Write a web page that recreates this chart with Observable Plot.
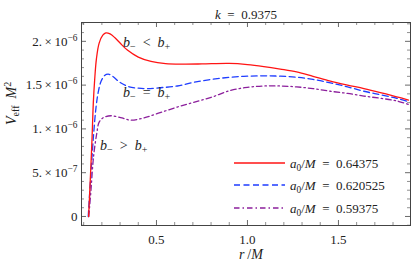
<!DOCTYPE html>
<html><head><meta charset="utf-8">
<script src="https://cdn.jsdelivr.net/npm/d3@7"></script>
<script src="https://cdn.jsdelivr.net/npm/@observablehq/plot@0.6"></script>
<style>
body{margin:0;background:#fff;}
#chart{position:relative;width:415px;height:273px;}
svg text{font-family:"Liberation Serif","Times New Roman",serif;}
</style></head><body><div id="chart"></div>
<script>
// values in units of 1e-6
const rRed = [0.127,0.138,0.146,0.153,0.160,0.170,0.185,0.205,0.222,0.245,0.272,0.30,0.34,0.40,0.47,0.55,0.65,0.75,0.90,1.00,1.09,1.18,1.27,1.36,1.456,1.55,1.64,1.73,1.82,1.885];
const vRed = [0.0,0.5,0.9,1.3,1.55,1.80,1.98,2.07,2.097,2.085,2.04,1.98,1.90,1.82,1.77,1.745,1.74,1.742,1.748,1.735,1.712,1.683,1.65,1.60,1.545,1.50,1.46,1.415,1.367,1.33];
const rBlue = [0.125,0.140,0.155,0.168,0.180,0.195,0.215,0.235,0.26,0.30,0.35,0.40,0.45,0.52,0.615,0.70,0.80,0.907,1.00,1.09,1.18,1.27,1.36,1.456,1.55,1.64,1.73,1.82,1.885];
const vBlue = [0.0,0.5,0.95,1.25,1.42,1.54,1.61,1.625,1.60,1.53,1.48,1.465,1.46,1.47,1.49,1.53,1.565,1.59,1.602,1.606,1.602,1.59,1.565,1.526,1.48,1.43,1.39,1.35,1.31];
const rPurple = [0.128,0.140,0.154,0.172,0.185,0.209,0.25,0.31,0.36,0.43,0.52,0.615,0.70,0.80,0.907,1.00,1.09,1.18,1.27,1.36,1.456,1.55,1.64,1.73,1.82,1.885];
const vPurple = [0.0,0.3,0.68,0.95,1.077,1.13,1.15,1.125,1.10,1.125,1.185,1.25,1.30,1.36,1.44,1.475,1.49,1.49,1.48,1.46,1.43,1.405,1.375,1.35,1.32,1.28];

const seriesNames = ["a₀/M = 0.64375","a₀/M = 0.620525","a₀/M = 0.59375"];
const seriesColors = ["#ff1414","#1f3dff","#8c1f9c"];
const seriesDash = [null,"6,3.5","5.5,3,1.5,3"];

const xMajor = [0.5,1.0,1.5];
const xMinor = d3.range(1,19).map(i=>i/10).filter(v=>!xMajor.some(m=>Math.abs(m-v)<1e-9));
const yMajor = [0,0.5e-6,1e-6,1.5e-6,2e-6];
const yTickLabels = ["0","5.×10^−7","1.×10^−6","1.5×10^−6","2.×10^−6"];
const yMinor = d3.range(-1,23).map(i=>i*1e-7).filter(v=>!yMajor.some(m=>Math.abs(m-v)<1e-12));

const annotations = [
  {r:0.316, v:1.99e-6, text:"b₋ < b₊"},
  {r:0.316, v:1.42e-6, text:"b₋ = b₊"},
  {r:0.19, v:0.81e-6, text:"b₋ > b₊"}
];
const title = "k = 0.9375";
const xLabel = "r/M";
const yLabel = "Veff M2";

const mk = (r,v,name)=>r.map((x,i)=>({r:x, v:v[i]*1e-6, name}));
const dRed = mk(rRed,vRed,seriesNames[0]);
const dBlue = mk(rBlue,vBlue,seriesNames[1]);
const dPurple = mk(rPurple,vPurple,seriesNames[2]);

const W=415,H=273,mL=81,mR=5,mT=22,mB=48;
const iW=W-mL-mR, iH=H-mT-mB;
const tc="#444";
const FS=13;

const plot = Plot.plot({
  width:W, height:H, marginLeft:mL, marginRight:mR, marginTop:mT, marginBottom:mB,
  style:{fontFamily:"Liberation Serif, serif", fontSize:FS+"px", background:"#fff", color:"#222"},
  x:{domain:[0.088,1.896]},
  y:{domain:[-0.103e-6,2.215e-6]},
  marks:[
    Plot.ruleX(xMajor,{insetTop:iH-5,stroke:tc,strokeWidth:0.8}),
    Plot.ruleX(xMajor,{insetBottom:iH-5,stroke:tc,strokeWidth:0.8}),
    Plot.ruleX(xMinor,{insetTop:iH-3,stroke:tc,strokeWidth:0.6}),
    Plot.ruleX(xMinor,{insetBottom:iH-3,stroke:tc,strokeWidth:0.6}),
    Plot.ruleY(yMajor,{insetRight:iW-5,stroke:tc,strokeWidth:0.8}),
    Plot.ruleY(yMajor,{insetLeft:iW-5,stroke:tc,strokeWidth:0.8}),
    Plot.ruleY(yMinor,{insetRight:iW-3,stroke:tc,strokeWidth:0.6}),
    Plot.ruleY(yMinor,{insetLeft:iW-3,stroke:tc,strokeWidth:0.6}),
    Plot.frame({stroke:tc,strokeWidth:1}),
    Plot.line(dPurple,{x:"r",y:"v",stroke:seriesColors[2],strokeWidth:1.3,strokeDasharray:seriesDash[2],curve:"catmull-rom"}),
    Plot.line(dBlue,{x:"r",y:"v",stroke:seriesColors[1],strokeWidth:1.3,strokeDasharray:seriesDash[1],curve:"catmull-rom"}),
    Plot.line(dRed,{x:"r",y:"v",stroke:seriesColors[0],strokeWidth:1.3,curve:"catmull-rom"}),
    Plot.axisX({ticks:xMajor,tickSize:0,tickPadding:9,tickFormat:d=>d.toFixed(1),label:null,fontSize:FS,fill:"#222"}),
    Plot.axisY({ticks:yMajor,tickSize:0,tickPadding:4,tickFormat:(d)=>yTickLabels[yMajor.indexOf(d)],label:null,fontSize:FS,fill:"#222"}),
    Plot.text(annotations,{x:"r",y:"v",text:"text",textAnchor:"start",fontSize:14,fill:"#222",className:"rich"}),
    Plot.text([title],{frameAnchor:"top",dy:-13,fontSize:FS,fill:"#222",className:"rich"}),
    Plot.text([xLabel],{frameAnchor:"bottom",dy:33,dx:5,fontSize:14,fill:"#222",className:"rich"}),
    Plot.text([yLabel],{frameAnchor:"left",dx:-70,dy:1,rotate:-90,fontSize:14,fill:"#222",className:"rich"})
  ]
});
document.getElementById("chart").appendChild(plot);

// segments: [text, italic, shift(px, + = down), small]
function richHTML(segs){
  let prev=0, out="";
  for(const [t,ital,shift,small] of segs){
    const dy=shift-prev; prev=shift;
    out+=`<tspan${ital?' font-style="italic"':''}${small?' font-size="72%"':''}${dy?` dy="${dy}"`:''}>${t}</tspan>`;
  }
  return out;
}
const sp="\u2002", th="\u2009";
const rel = op=>richHTML([["b",1,0],["−",0,3,1],[sp+op+sp,0,0],["b",1,0],["+",0,3,1]]);
const rich = {
  "b₋ < b₊": rel("&lt;"),
  "b₋ = b₊": rel("="),
  "b₋ > b₊": rel("&gt;"),
  "k = 0.9375": richHTML([["k",1,0],[sp+"="+sp+"0.9375",0,0]]),
  "r/M": richHTML([["r",1,0],[th+"/",0,0],["M",1,0]]),
  "Veff M2": richHTML([["V",1,0],["eff",0,3,1],[sp+"M",1,0],["2",0,-5,1]])
};
const svg = d3.select(plot);
svg.selectAll("g.rich text").each(function(){
  const t=this.textContent; if(rich[t]) this.innerHTML=rich[t];
});
svg.selectAll('g[aria-label="y-axis tick label"] text').each(function(){
  const m=this.textContent.split("^");
  if(m.length===2) this.innerHTML=richHTML([[m[0].replace("×",th+"×"+th),0,0],[m[1],0,-5,1]]);
});
// legend
const lg = svg.append("g").attr("font-size",FS).attr("fill","#222").attr("text-anchor","start");
const lx0=234,lx1=285,ly=[163,185,208];
seriesNames.forEach((n,i)=>{
  lg.append("line").attr("x1",lx0).attr("x2",lx1).attr("y1",ly[i]).attr("y2",ly[i])
    .attr("stroke",seriesColors[i]).attr("stroke-width",1.3).attr("stroke-dasharray",seriesDash[i]);
  const val=n.split("= ")[1];
  lg.append("text").attr("x",290).attr("y",ly[i]+4.5).attr("text-anchor","start")
    .html(richHTML([["a",1,0],["0",0,3,1],["/",0,0],["M",1,0],[sp+"="+sp+val,0,0]]));
});
</script></body></html>
